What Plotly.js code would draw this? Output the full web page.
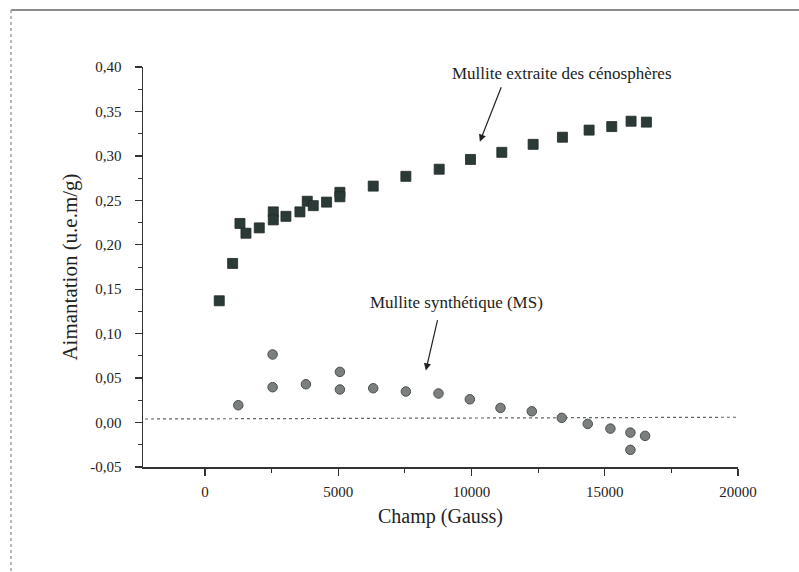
<!DOCTYPE html>
<html>
<head>
<meta charset="utf-8">
<script src="https://cdn.plot.ly/plotly-3.0.1.min.js"></script>
<style>html,body{margin:0;padding:0;background:#fff;}#chart{width:799px;height:572px;}</style>
</head>
<body>
<div id="chart"></div>
<script>
// Mullite extraite des cénosphères (squares)
var cenoX = [536, 1038, 1313, 1538, 2038, 2563, 2563, 3038, 3563, 3838, 4063, 4563, 5063, 5063, 6313, 7538, 8788, 9963, 11138, 12313, 13413, 14413, 15263, 15988, 16563];
var cenoY = [0.137, 0.179, 0.224, 0.213, 0.219, 0.237, 0.228, 0.232, 0.237, 0.249, 0.244, 0.248, 0.259, 0.254, 0.266, 0.277, 0.285, 0.296, 0.304, 0.313, 0.321, 0.329, 0.333, 0.339, 0.338];
// Mullite synthétique (MS) (circles)
var msX = [1250, 2538, 2538, 3788, 5063, 5063, 6313, 7538, 8763, 9938, 11088, 12263, 13388, 14363, 15213, 15963, 15963, 16513];
var msY = [0.0195, 0.0766, 0.0398, 0.0431, 0.057, 0.0372, 0.0386, 0.0349, 0.0327, 0.0262, 0.0165, 0.0127, 0.0053, -0.0015, -0.0068, -0.0113, -0.0307, -0.015];
// dotted reference line
var refX = [-2250, 20000];
var refY = [0.004, 0.006];

var xTickVals = [0, 5000, 10000, 15000, 20000];
var xTickText = ['0', '5000', '10000', '15000', '20000'];
var yTickVals = [-0.05, 0, 0.05, 0.10, 0.15, 0.20, 0.25, 0.30, 0.35, 0.40];
var yTickText = ['-0,05', '0,00', '0,05', '0,10', '0,15', '0,20', '0,25', '0,30', '0,35', '0,40'];

var serif = 'Liberation Serif, Times New Roman, serif';

var traces = [
  {x: refX, y: refY, mode: 'lines', line: {color: '#666', width: 1.2, dash: 'dot'}, hoverinfo: 'skip'},
  {x: cenoX, y: cenoY, mode: 'markers', name: 'Mullite extraite des cénosphères',
   marker: {symbol: 'square', size: 10, color: '#2c3a37', line: {color: '#1f2a28', width: 0.8}}},
  {x: msX, y: msY, mode: 'markers', name: 'Mullite synthétique (MS)',
   marker: {symbol: 'circle', size: 9.5, color: '#7b807e', line: {color: '#4a4f4d', width: 1}}}
];

var layout = {
  width: 799, height: 572,
  margin: {l: 143, r: 61, t: 67, b: 105},
  paper_bgcolor: '#fff', plot_bgcolor: '#fff',
  showlegend: false,
  font: {family: serif, color: '#222', size: 14},
  xaxis: {
    range: [-2325, 20000], showgrid: false, zeroline: false,
    showline: true, linecolor: '#333', linewidth: 1.5,
    ticks: 'outside', ticklen: 7, tickwidth: 1.3, tickcolor: '#333',
    tickvals: xTickVals, ticktext: xTickText, ticklabelstandoff: 3,
    tickfont: {family: serif, size: 15, color: '#222'},
    minor: {ticks: 'outside', ticklen: 4, tickwidth: 1, tickcolor: '#333', dtick: 2500, tick0: 0},
    title: {text: 'Champ (Gauss)', font: {family: serif, size: 20, color: '#222'}, standoff: 10}
  },
  yaxis: {
    range: [-0.05, 0.40], showgrid: false, zeroline: false,
    showline: true, linecolor: '#333', linewidth: 1.5,
    ticks: 'outside', ticklen: 7, tickwidth: 1.3, tickcolor: '#333',
    tickvals: yTickVals, ticktext: yTickText, ticklabelstandoff: 10,
    tickfont: {family: serif, size: 15, color: '#222'},
    minor: {ticks: 'outside', ticklen: 4, tickwidth: 1, tickcolor: '#333', dtick: 0.025, tick0: 0},
    title: {text: 'Aimantation (u.e.m/g)', font: {family: serif, size: 21, color: '#222'}, standoff: 7}
  },
  annotations: [
    {x: 13388, y: 0.393, xref: 'x', yref: 'y', text: 'Mullite extraite des cénosphères', showarrow: false,
     font: {family: serif, size: 17, color: '#222'}},
    {x: 9450, y: 0.135, xref: 'x', yref: 'y', text: 'Mullite synthétique (MS)', showarrow: false,
     font: {family: serif, size: 17, color: '#222'}},
    {x: 10313, y: 0.316, ax: 11138, ay: 0.379, xref: 'x', yref: 'y', axref: 'x', ayref: 'y', text: '',
     showarrow: true, arrowhead: 2, arrowsize: 1.2, arrowwidth: 1.2, arrowcolor: '#222'},
    {x: 8288, y: 0.0585, ax: 8738, ay: 0.117, xref: 'x', yref: 'y', axref: 'x', ayref: 'y', text: '',
     showarrow: true, arrowhead: 2, arrowsize: 1.2, arrowwidth: 1.2, arrowcolor: '#222'}
  ],
  shapes: [
    {type: 'line', xref: 'paper', yref: 'paper', x0: -0.2218, x1: 1.11, y0: 1.1425, y1: 1.1425,
     line: {color: '#8c8c8c', width: 2}},
    {type: 'line', xref: 'paper', yref: 'paper', x0: -0.2218, x1: -0.2218, y0: 1.1425, y1: -0.27,
     line: {color: '#a0a0a0', width: 1.5, dash: 'dot'}}
  ]
};

Plotly.newPlot('chart', traces, layout, {displayModeBar: false, staticPlot: true});
</script>
</body>
</html>
